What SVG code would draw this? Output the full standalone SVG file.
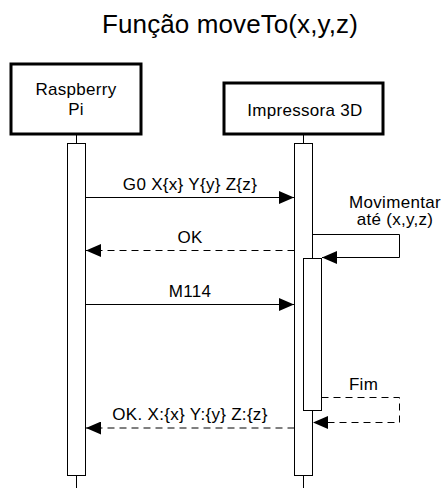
<svg xmlns="http://www.w3.org/2000/svg" width="441" height="488" viewBox="0 0 441 488">
  <style>
    text { font-family: "Liberation Sans", Arial, sans-serif; fill: #000; }
    .title { font-size: 26px; letter-spacing: 0.1px; text-anchor: middle; }
    .lbl { font-size: 17px; letter-spacing: 0.3px; text-anchor: middle; }
    .box { fill: #fff; stroke: #000; stroke-width: 3; }
    .act { fill: #fff; stroke: #000; stroke-width: 1; }
    .life { stroke: #000; stroke-width: 1; fill: none; }
    .msg { stroke: #000; stroke-width: 1; fill: none; marker-end: url(#arrow); }
    .dash { stroke-dasharray: 7 5; }
  </style>
  <defs>
    <marker id="arrow" markerUnits="userSpaceOnUse" viewBox="0 0 15 13" refX="15" refY="6.5" markerWidth="15" markerHeight="13" orient="auto">
      <path d="M0,0 L15,6.5 L0,13 Z" fill="#000" stroke="none"/>
    </marker>
  </defs>
  <rect width="441" height="488" fill="#fff"/>
  <text class="title" x="230" y="33">Função moveTo(x,y,z)</text>

  <g id="raspberry">
    <line class="life" x1="76.5" y1="134" x2="76.5" y2="143.5"/>
    <line class="life" x1="76.5" y1="475.5" x2="76.5" y2="488"/>
    <rect class="box" x="11" y="64" width="130" height="70"/>
    <text class="lbl" x="76" y="95">Raspberry</text>
    <text class="lbl" x="76" y="115">Pi</text>
    <rect class="act" x="67.5" y="143.5" width="18" height="332"/>
  </g>

  <g id="impressora">
    <line class="life" x1="303.5" y1="134" x2="303.5" y2="143.5"/>
    <line class="life" x1="303.5" y1="475.5" x2="303.5" y2="488"/>
    <rect class="box" x="224" y="83" width="159" height="51"/>
    <text class="lbl" x="305" y="115.5">Impressora 3D</text>
    <rect class="act" x="294.5" y="143.5" width="18" height="332"/>
    <rect id="impressora-exec" class="act" x="303.5" y="258.5" width="18" height="152"/>
  </g>

  <g id="connectors">
    <line class="msg" x1="85.5" y1="197.5" x2="294" y2="197.5"/>
    <text class="lbl" x="190" y="189.5">G0 X{x} Y{y} Z{z}</text>

    <line class="msg dash" x1="294.5" y1="250.5" x2="86" y2="250.5"/>
    <text class="lbl" x="190" y="242.5">OK</text>

    <polyline class="msg" points="312.5,234.5 399.5,234.5 399.5,257.5 322,257.5"/>
    <text class="lbl" x="395" y="207.5">Movimentar</text>
    <text class="lbl" x="395" y="225">até (x,y,z)</text>

    <line class="msg" x1="85.5" y1="304.5" x2="294" y2="304.5"/>
    <text class="lbl" x="190" y="296.5">M114</text>

    <polyline class="msg dash" points="321.5,397.5 399.5,397.5 399.5,422.5 313,422.5"/>
    <text class="lbl" x="363.5" y="390">Fim</text>

    <line class="msg dash" x1="294.5" y1="428" x2="86" y2="428"/>
    <text class="lbl" x="190" y="420">OK. X:{x} Y:{y} Z:{z}</text>
  </g>
</svg>
